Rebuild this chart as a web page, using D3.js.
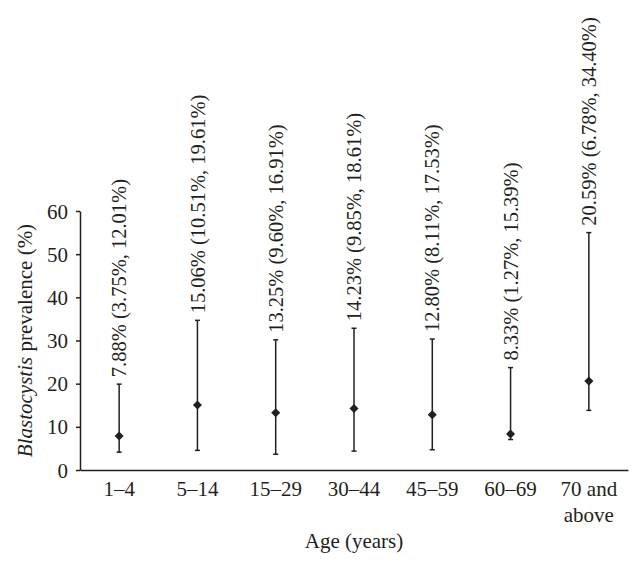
<!DOCTYPE html>
<html>
<head>
<meta charset="utf-8">
<script src="https://cdn.jsdelivr.net/npm/d3@7"></script>
<style>
  body { margin: 0; background: #fff; }
  svg { display: block; font-family: "Liberation Serif", "Times New Roman", serif; }
  .axis path, .axis line { stroke: #231f20; stroke-width: 1.5; }
  .axis text { fill: #231f20; font-size: 21px; font-family: "Liberation Serif", serif; }
</style>
</head>
<body>
<svg id="chart"></svg>
<script>
const width = 642;
const height = 565;

// age groups and the prevalence with its 95% CI as printed on the labels
const ageGroups = ["1–4", "5–14", "15–29", "30–44", "45–59", "60–69", "70 and above"];
const prevalence = [7.88, 15.06, 13.25, 14.23, 12.80, 8.33, 20.59];
const ciLower = [3.75, 10.51, 9.60, 9.85, 8.11, 1.27, 6.78];
const ciUpper = [12.01, 19.61, 16.91, 18.61, 17.53, 15.39, 34.40];
const yTicks = [0, 10, 20, 30, 40, 50, 60];

const margin = { top: 211, right: 14, bottom: 95, left: 80 };
const ink = "#231f20";

const svg = d3.select("#chart")
    .attr("width", width)
    .attr("height", height);

const x = d3.scaleBand()
    .domain(ageGroups)
    .range([margin.left, width - margin.right])
    .padding(0);

const y = d3.scaleLinear()
    .domain([0, 60])
    .range([height - margin.bottom, margin.top]);

// the figure draws the CI numbers as error amounts around the point
const rows = ageGroups.map((g, i) => ({
    group: g,
    value: prevalence[i],
    lo: prevalence[i] - ciLower[i],
    hi: prevalence[i] + ciUpper[i],
    label: `${prevalence[i].toFixed(2)}% (${ciLower[i].toFixed(2)}%, ${ciUpper[i].toFixed(2)}%)`
}));

// y axis
svg.append("g")
    .attr("class", "axis")
    .attr("transform", `translate(${margin.left},0)`)
    .call(d3.axisLeft(y).tickValues(yTicks).tickSize(4).tickPadding(8).tickSizeOuter(0))
    .call(g => g.selectAll("text").attr("dy", "0.34em"));

// x axis, no ticks
const xAxis = svg.append("g")
    .attr("class", "axis")
    .attr("transform", `translate(0,${y(0)})`)
    .call(d3.axisBottom(x).tickSize(0).tickPadding(11).tickSizeOuter(0));

xAxis.selectAll(".tick text")
    .attr("dy", "0.71em")
    .each(function (d) {
        if (d === "70 and above") {
            const t = d3.select(this).text(null);
            t.append("tspan").attr("x", 0).attr("dy", "0.71em").text("70 and");
            t.append("tspan").attr("x", 0).attr("dy", "1.25em").text("above");
        }
    });

const cx = d => x(d.group) + x.bandwidth() / 2;

const g = svg.append("g");

// error bars
g.selectAll("line.bar")
    .data(rows)
    .enter().append("line")
    .attr("class", "bar")
    .attr("x1", cx).attr("x2", cx)
    .attr("y1", d => y(d.lo)).attr("y2", d => y(d.hi))
    .attr("stroke", ink).attr("stroke-width", 1.5);

["lo", "hi"].forEach(k => {
    g.selectAll("line.cap-" + k)
        .data(rows)
        .enter().append("line")
        .attr("class", "cap-" + k)
        .attr("x1", d => cx(d) - 2.5).attr("x2", d => cx(d) + 2.5)
        .attr("y1", d => y(d[k])).attr("y2", d => y(d[k]))
        .attr("stroke", ink).attr("stroke-width", 1.5);
});

// diamond markers
g.selectAll("path.point")
    .data(rows)
    .enter().append("path")
    .attr("class", "point")
    .attr("d", d3.symbol().type(d3.symbolDiamond2).size(52))
    .attr("transform", d => `translate(${cx(d)},${y(d.value)})`)
    .attr("fill", ink);

// vertical value labels above each bar
g.selectAll("text.label")
    .data(rows)
    .enter().append("text")
    .attr("class", "label")
    .attr("transform", d => `translate(${cx(d)},${y(d.hi) - 7}) rotate(-90)`)
    .attr("dy", "0.35em")
    .attr("text-anchor", "start")
    .attr("fill", ink)
    .style("font-size", "20.5px")
    .text(d => d.label);

// axis titles
const yTitle = svg.append("text")
    .attr("transform", `translate(32,${(y(0) + y(60)) / 2}) rotate(-90)`)
    .attr("text-anchor", "middle")
    .attr("fill", ink)
    .style("font-size", "21px");
yTitle.append("tspan").style("font-style", "italic").text("Blastocystis");
yTitle.append("tspan").text(" prevalence (%)");

svg.append("text")
    .attr("x", (margin.left + width - margin.right) / 2)
    .attr("y", 548)
    .attr("text-anchor", "middle")
    .attr("fill", ink)
    .style("font-size", "21px")
    .text("Age (years)");
</script>
</body>
</html>
